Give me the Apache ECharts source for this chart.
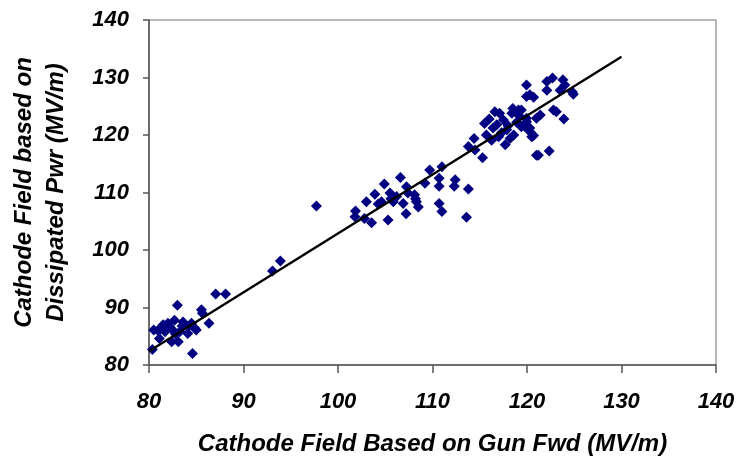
<!DOCTYPE html>
<html><head><meta charset="utf-8">
<script src="https://cdn.jsdelivr.net/npm/echarts@6/dist/echarts.min.js"></script>
<style>html,body{margin:0;padding:0;background:#fff}#c{width:738px;height:463px}</style>
</head><body><div id="c"></div>
<script>
// Gun forward field vs dissipated power field, [x, y] pairs (MV/m)
var clusterLow = [
  [80.36,82.7],[80.5,86.1],[81.1,84.6],[81.5,87.0],[81.7,85.8],[82.0,87.25],[82.4,84.05],
  [82.5,86.1],[82.7,87.8],[83.0,90.4],[83.1,84.05],[83.25,85.8],[83.6,87.5],[84.1,85.5],
  [84.5,87.25],[84.6,82.0],[84.85,86.4],[85.0,86.1],[85.55,89.6],[85.65,89.0],[86.35,87.25],
  [87.06,92.35],[88.1,92.35],[81.3,86.6],[82.2,86.6],[83.5,86.8],[84.3,86.9],[82.8,85.4],[81.0,85.9]
];
var clusterMid = [
  [93.07,96.35],[93.9,98.1],[97.72,107.65],
  [101.85,106.8],[101.8,105.8],[102.8,105.5],[103.0,108.4],[103.55,104.75],[103.9,109.7],
  [104.25,108.0],[104.6,108.4],[104.9,111.5],[105.3,105.2],[105.5,109.9],[105.85,108.4],
  [106.6,112.6],[106.9,108.1],[107.2,106.3],[107.25,111.0],[107.4,109.9],[108.1,109.6],
  [108.3,108.4],[108.5,107.5],[109.2,111.6],[109.7,113.9],[110.7,108.1],[110.7,111.1],
  [110.7,112.5],[111.0,106.7],[111.0,114.5],[112.3,111.1],[112.4,112.2],[113.8,110.6],
  [113.6,105.7],[105.6,108.9],[108.2,108.9],[106.2,109.3]
];
var clusterHigh = [
  [115.3,116.05],[113.8,118.0],[114.4,119.4],[115.5,122.0],[116.4,121.2],[116.6,124.05],
  [116.25,119.1],[117.5,122.6],[117.7,118.3],[117.85,120.9],[118.4,123.8],[118.5,124.6],
  [119.1,124.35],[119.4,121.45],[119.95,122.9],[120.3,121.2],[120.5,119.7],[119.95,126.7],
  [121.0,116.5],[114.5,117.4],[117.1,123.8],[117.0,119.7],[118.2,119.4],[115.7,120.0],
  [119.95,128.7],[120.3,127.0],[120.7,126.55],[122.1,129.3],[122.7,129.9],[122.1,127.8],
  [123.8,129.6],[123.5,127.8],[124.0,128.7],[124.8,127.5],[124.9,127.1],[122.8,124.35],
  [123.1,124.05],[123.9,122.8],[121.4,123.5],[121.0,122.9],[119.4,124.35],[119.95,122.3],
  [119.8,121.45],[120.3,120.6],[120.7,119.9],[121.2,116.5],[122.35,117.2],
  [116.8,121.8],[118.0,121.6],[118.9,122.2],[117.3,120.4],[118.6,120.0],[119.2,123.3],[116.0,122.8]
];
var fitX = [80, 130];
var fitY = [82.4, 133.6];
var axisTicks = [80, 90, 100, 110, 120, 130, 140];

var fitLine = fitX.map(function (x, i) { return [x, fitY[i]]; });
var font = 'Liberation Sans, Arial, sans-serif';
var chart = echarts.init(document.getElementById('c'));
chart.setOption({
  animation: false,
  grid: { left: 149, right: 22, top: 20, bottom: 98, show: true, borderColor: '#a0a0a0', borderWidth: 1.5 },
  xAxis: {
    type: 'value', min: axisTicks[0], max: axisTicks[axisTicks.length - 1], interval: 10,
    name: 'Cathode Field Based on Gun Fwd (MV/m)', nameLocation: 'middle', nameGap: 67,
    nameTextStyle: { fontFamily: font, fontSize: 24, fontWeight: 'bold', fontStyle: 'italic', color: '#000' },
    axisLine: { lineStyle: { color: '#555', width: 1.5 } },
    axisTick: { length: 8, lineStyle: { color: '#555', width: 1.5 } },
    splitLine: { show: false },
    axisLabel: { margin: 26, fontFamily: font, fontSize: 22, fontWeight: 'bold', fontStyle: 'italic', color: '#000' }
  },
  yAxis: {
    type: 'value', min: axisTicks[0], max: axisTicks[axisTicks.length - 1], interval: 10,
    name: 'Cathode Field based on\nDissipated Pwr (MV/m)', nameLocation: 'middle', nameGap: 77, nameRotate: 90,
    nameTextStyle: { fontFamily: font, fontSize: 24, fontWeight: 'bold', fontStyle: 'italic', color: '#000', lineHeight: 32 },
    axisLine: { lineStyle: { color: '#555', width: 1.5 } },
    axisTick: { length: 6, lineStyle: { color: '#555', width: 1.5 } },
    splitLine: { show: false },
    axisLabel: { margin: 20, fontFamily: font, fontSize: 22, fontWeight: 'bold', fontStyle: 'italic', color: '#000' }
  },
  series: [
    { type: 'scatter', data: clusterLow.concat(clusterMid, clusterHigh), symbol: 'diamond', symbolSize: 11,
      itemStyle: { color: '#000080', opacity: 1 }, z: 2 },
    { type: 'line', data: fitLine, symbol: 'none', lineStyle: { color: '#000', width: 2.4 }, z: 3 }
  ]
});
</script></body></html>
